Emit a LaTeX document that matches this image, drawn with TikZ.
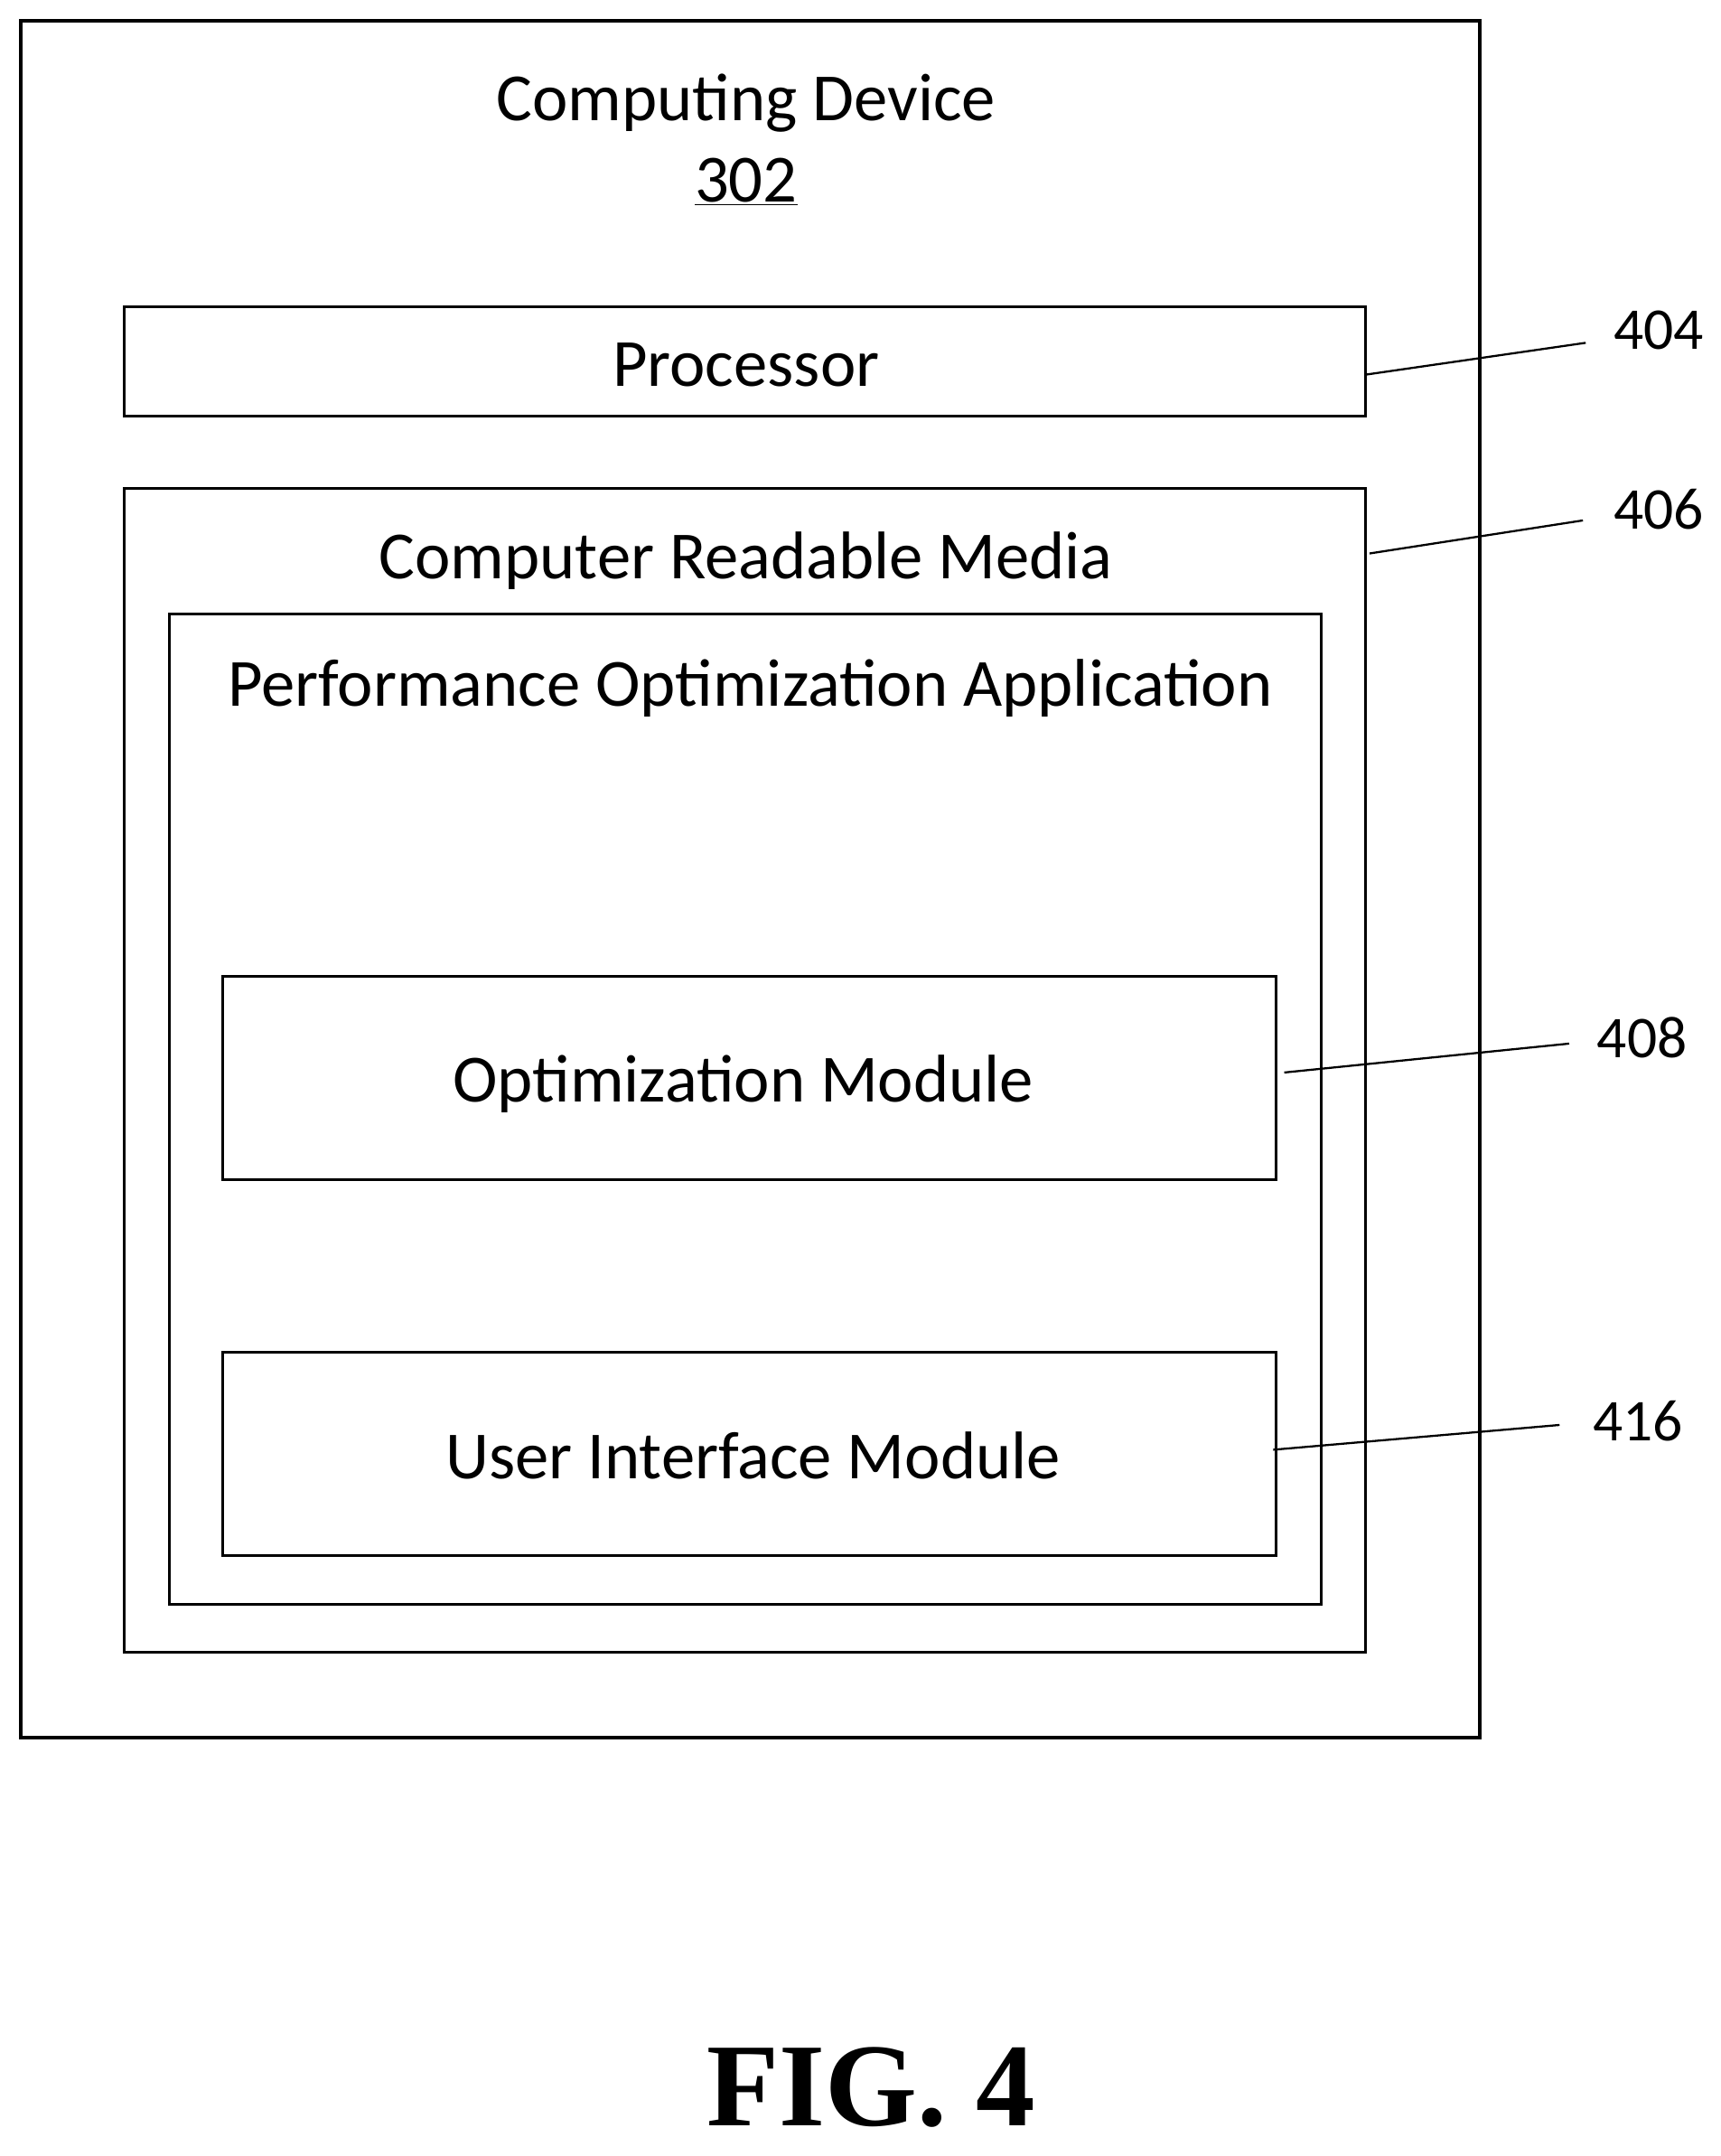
\documentclass[tikz,border=0pt]{standalone}
\usepackage{fontspec}
\setmainfont{Carlito}
\newfontfamily\figfont{Liberation Serif}
\begin{document}
\begin{tikzpicture}[x=1pt,y=-1pt,
  box/.style={draw,line width=2pt},
  lead/.style={line width=1.5pt},
  txt/.style={font=\fontsize{49}{58}\selectfont},
  num/.style={font=\fontsize{43}{50}\selectfont}]
\useasboundingbox (0,0) rectangle (1250,1566);
\draw[box,line width=3pt] (15,15) rectangle (1075,1262);
\node[txt] (t1) at (542,75) {Computing Device};
\node[txt] (t2) at (542,132) {\underline{302}};
\draw[box] (90,223) rectangle (992,302);
\node[txt] (p) at (542,265) {Processor};
\draw[box] (90,355) rectangle (992,1200);
\node[txt] (crm) at (542,407) {Computer Readable Media};
\draw[box] (123,446) rectangle (960,1165);
\node[txt] (poa) at (545,500) {Performance Optimization Application};
\draw[box] (162,709) rectangle (927,857);
\node[txt] (om) at (540,787) {Optimization Module};
\draw[box] (162,982) rectangle (927,1130);
\node[txt] (ui) at (547,1057) {User Interface Module};
\coordinate (a1) at (993,272); \coordinate (a2) at (1152,249);
\coordinate (b1) at (995,402); \coordinate (b2) at (1150,378);
\coordinate (c1) at (933,779); \coordinate (c2) at (1140,758);
\coordinate (d1) at (925,1053); \coordinate (d2) at (1133,1035);
\draw[lead] (a1) -- (a2); \draw[lead] (b1) -- (b2);
\draw[lead] (c1) -- (c2); \draw[lead] (d1) -- (d2);
\node[num] (n404) at (1205,240) {404};
\node[num] (n406) at (1205,370) {406};
\node[num] (n408) at (1193,754) {408};
\node[num] (n416) at (1190,1032) {416};
\node[font=\figfont\bfseries\fontsize{86}{94}\selectfont] (fig) at (633,1516) {FIG. 4};
\end{tikzpicture}
\end{document}
